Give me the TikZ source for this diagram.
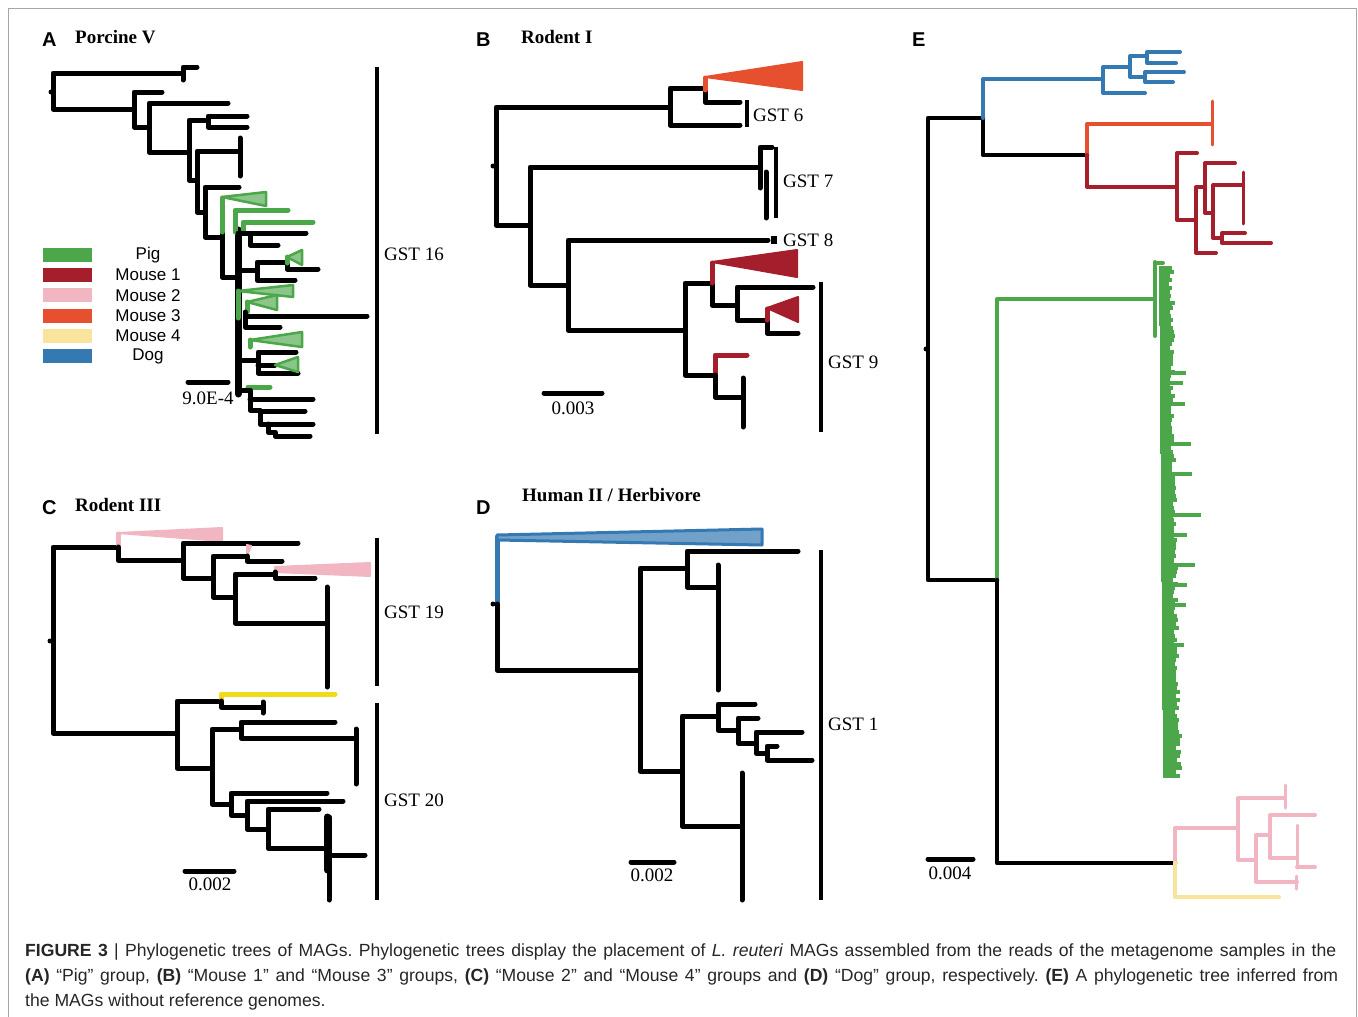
\documentclass[tikz,border=0pt]{standalone}
\usepackage{fontspec}
\setmainfont{Liberation Serif}
\newfontfamily\capfont{Liberation Sans}
\usetikzlibrary{calc}
\definecolor{pig}{HTML}{4CA64A}
\definecolor{m1}{HTML}{A41E2B}
\definecolor{m2}{HTML}{F2B6C3}
\definecolor{m3}{HTML}{E6502F}
\definecolor{m4}{HTML}{F8E49C}
\definecolor{m4c}{HTML}{F0DA1C}
\definecolor{dog}{HTML}{3479B1}
\newcommand\capsetup{\capfont\frenchspacing\fontsize{17.6}{18}\selectfont}

\begin{document}
\begin{tikzpicture}[x=1pt,y=-1pt,
  br/.style={line width=5pt,line cap=round,line join=round},
  pigbr/.style={br,draw=pig},
  m1br/.style={br,draw=m1},
  m2br/.style={br,draw=m2},
  m3br/.style={br,draw=m3},
  m4br/.style={br,draw=m4},
  m4cbr/.style={br,draw=m4c},
  dogbr/.style={br,draw=dog},
  pigclade/.style={draw=pig,fill=pig!65!white,line width=2.5pt,line join=round},
  m1clade/.style={draw=m1,fill=m1,line width=2pt,line join=round},
  m2clade/.style={draw=m2,fill=m2,line width=2pt,line join=round},
  m3clade/.style={draw=m3,fill=m3,line width=2pt,line join=round},
  dogclade/.style={draw=dog,fill=dog!70!white,line width=3pt,line join=round},
  gstbar/.style={line width=4.5pt},
  lett/.style={anchor=west,inner sep=0pt,font=\capfont\bfseries\fontsize{20}{20}\selectfont},
  ttl/.style={anchor=west,inner sep=0pt,font=\bfseries\fontsize{19}{19}\selectfont},
  gst/.style={anchor=west,inner sep=0pt,font=\fontsize{19}{19}\selectfont},
  scl/.style={inner sep=0pt,font=\fontsize{19}{19}\selectfont},
  leg/.style={inner sep=0pt,font=\capfont\fontsize{17}{17}\selectfont},
  captxt/.style={anchor=base west,inner sep=0pt,text=black!85,font=\capsetup}]
\def\radius{2.5pt}
\useasboundingbox (0,0) rectangle (1358,1017);
\draw[black!35,line width=1pt] (8,1017) -- (8,8) -- (1356,8) -- (1356,1017);

% A: Porcine V
\node[lett] (la) at (42,40) {A};
\node[ttl] (ta) at (75,37) {Porcine V};
\fill (51,92) circle (\radius);
\draw[br] (183,73) -| (53,109) -- (134,109);
\draw[br] (197,67) -| (183,80);
\draw[br] (162,92) -| (134,127) -- (149,127);
\draw[br] (228,103) -| (149,152) -- (189,152);
\draw[br] (208,120) -| (189,180) -- (197,180);
\draw[br] (247,116) -| (208,127) -- (247,127);
\draw[br] (240,151) -| (197,212) -- (205,212);
\draw[br] (240,138) -- (240,176);
\draw[br] (239,187) -| (205,237) -- (222,237);
\draw[br] (222,232) -- (222,277) -- (237,277);
\draw[br,line width=7pt] (238,230) -- (238,394);
\draw[pigbr] (222,232) -- (222,198);
\filldraw[pigclade] (222,197) -- (266,192) -- (266,206) -- cycle;
\draw[pigbr] (235,232) |- (288,210);
\draw[pigbr] (243,233) |- (313,222);
\draw[br] (306,233) -| (250,245) -- (278,245);
\draw[br] (238,233) -- (250,233);
\draw[br] (238,270) -- (257,270);
\draw[br] (287,262) -| (257,280) -- (295,280);
\draw[br] (287,262) |- (318,269);
\draw[pigbr] (287,263) -- (287,257);
\filldraw[pigclade] (287,257) -- (302,250) -- (302,265) -- cycle;
\draw[pigbr] (238,318) -- (238,291);
\filldraw[pigclade] (238,291) -- (293,285) -- (293,297) -- cycle;
\draw[pigbr] (247,312) -- (247,302);
\filldraw[pigclade] (247,302) -- (277,295) -- (277,310) -- cycle;
\draw[br] (245,312) |- (367,316);
\draw[br] (245,316) |- (280,327);
\draw[pigbr] (250,347) -- (250,340);
\filldraw[pigclade] (250,340) -- (302,332) -- (302,347) -- cycle;
\draw[br] (240,360) -- (258,360);
\draw[br] (296,352) -| (258,373) -- (298,373);
\draw[br] (258,365) -- (275,365);
\filldraw[pigclade] (275,365) -- (298,357) -- (298,372) -- cycle;
\draw[pigbr] (248,387) -- (270,387);
\draw[br] (238,390) -- (250,390) |- (260,410);
\draw[br] (250,399) -- (313,399);
\draw[br] (305,411) -| (260,424) -- (313,424);
\draw[br] (268,424) |- (275,432) |- (310,436);
\draw[gstbar] (377,67) -- (377,434);
\node[gst] (g16) at (384,254) {GST 16};
\draw[br] (188,382) -- (228,382);
\node[scl] (sa) at (208,398) {9.0E-4};
\foreach \c/\t [count=\i from 0] in {pig/Pig,m1/Mouse 1,m2/Mouse 2,m3/Mouse 3,m4/Mouse 4,dog/Dog}{
  \fill[\c] (43,{248+20.2*\i}) rectangle ++(49,14);
  \node[leg] (leg\i) at (148,{255+20.2*\i}) {\t};
}

% B: Rodent I
\node[lett] (lb) at (476,40) {B};
\node[ttl] (tb) at (521,37) {Rodent I};
\fill (493,166) circle (\radius);
\draw[br] (670,107) -| (496,225) -- (530,225);
\draw[br] (705,88) -| (670,125) -- (740,125);
\draw[br] (705,90) -- (705,102) -- (740,102);
\draw[m3br] (705,90) -- (705,78);
\filldraw[m3clade] (705,77) -- (802,62) -- (802,90) -- cycle;
\draw[gstbar] (747,100) -- (747,127);
\node[gst] (g6) at (753,115) {GST 6};
\draw[br] (760,167) -| (530,285) -- (568,285);
\draw[br] (772,147) -| (760,188);
\draw[br] (766,172) -- (766,218);
\draw[gstbar] (776,147) -- (776,218);
\node[gst] (g7) at (783,181) {GST 7};
\draw[br] (768,240) -| (568,330) -- (685,330);
\fill (771,236) rectangle (777,244);
\node[gst] (g8) at (783,240) {GST 8};
\draw[br] (712,283) -| (685,375) -- (715,375);
\draw[br] (712,283) -- (712,305) -- (737,305);
\draw[m1br] (712,283) -- (712,263);
\filldraw[m1clade] (712,262) -- (797,250) -- (797,277) -- cycle;
\draw[br] (813,287) -| (737,320) -- (767,320);
\draw[br] (767,320) |- (798,333);
\draw[m1br] (767,320) -- (767,309);
\filldraw[m1clade] (767,308) -- (798,297) -- (798,322) -- cycle;
\draw[m1br] (715,375) |- (747,355);
\draw[br] (715,375) |- (743,397);
\draw[br] (743,378) -- (743,427);
\draw[gstbar] (821,282) -- (821,432);
\node[gst] (g9) at (828,362) {GST 9};
\draw[br] (544,393) -- (602,393);
\node[scl] (sb) at (573,408) {0.003};

% C: Rodent III
\node[lett] (lc) at (42,508) {C};
\node[ttl] (tc) at (75,505) {Rodent III};
\fill (50,641) circle (\radius);
\draw[br] (118,547) -| (53,733) -- (177,733);
\draw[m2br] (118,547) -- (118,534);
\filldraw[m2clade] (118,533) -- (222,528) -- (222,541) -- cycle;
\draw[br] (118,547) |- (183,560);
\draw[br] (298,543) -| (183,578) -- (213,578);
\draw[br] (247,556) -| (213,597) -- (235,597);
\filldraw[m2clade] (247,556) -- (247,545) -- (251,546) -- cycle;
\draw[br] (247,556) |- (282,561);
\draw[br] (275,574) -| (235,623) -- (327,623);
\filldraw[m2clade] (275,567) -- (370,563) -- (370,576) -- (275,572) -- cycle;
\draw[br] (275,572) |- (315,578);
\draw[br] (327,587) -- (327,687);
\draw[gstbar] (377,538) -- (377,686);
\node[gst] (g19) at (384,612) {GST 19};
\draw[br] (221,701) -| (177,768) -- (212,768);
\draw[m4cbr] (221,701) |- (335,694);
\draw[br] (221,701) |- (263,707);
\draw[br] (263,702) -- (263,713);
\draw[br] (241,729) -| (212,804) -- (231,804);
\draw[br] (335,722) -| (241,738) -- (356,738);
\draw[br] (356,729) -- (356,784);
\draw[br] (327,793) -| (231,815) -- (247,815);
\draw[br] (343,801) -| (247,829) -- (268,829);
\draw[br] (319,809) -| (268,848) -- (327,848);
\draw[br,line width=7pt] (327,817) -- (327,870);
\draw[br] (329,817) -- (329,900);
\draw[br] (330,855) -- (365,855);
\draw[gstbar] (377,703) -- (377,900);
\node[gst] (g20) at (384,800) {GST 20};
\draw[br] (185,871) -- (234,871);
\node[scl] (sc) at (210,884) {0.002};

% D: Human II / Herbivore
\node[lett] (ld) at (476,508) {D};
\node[ttl] (td) at (522,495) {Human II / Herbivore};
\fill (493,604) circle (\radius);
\draw[dogbr] (497,604) -- (497,537);
\filldraw[dogclade] (497,535) -- (762,529) -- (762,545) -- (497,540) -- cycle;
\draw[br] (497,604) |- (640,670);
\draw[br] (687,568) -| (640,771) -- (682,771);
\draw[br] (798,551) -| (687,587) -- (718,587);
\draw[br] (718,565) -- (718,690);
\draw[br] (718,716) -| (682,826) -- (742,826);
\draw[br] (755,704) -| (718,730) -- (738,730);
\draw[br] (758,718) -| (738,743) -- (756,743);
\draw[br] (802,732) -| (756,753) -- (767,753);
\draw[br] (777,746) -| (767,760) -- (812,760);
\draw[br] (742,773) -- (742,900);
\draw[gstbar] (821,550) -- (821,900);
\node[gst] (g1) at (828,724) {GST 1};
\draw[br] (631,862) -- (674,862);
\node[scl] (sd) at (652,875) {0.002};

% E
\node[lett] (le) at (912,40) {E};
\fill (926,349) circle (\radius);
\draw[br,line width=4.5pt] (983,118) -| (928,580) -- (997,580);
\draw[br,line width=4.5pt] (983,116) |- (1087,155);
\draw[dogbr,line width=4pt] (983,118) |- (1103,79);
\draw[dogbr,line width=4pt] (1145,93) -| (1103,67) -- (1130,67);
\draw[dogbr,line width=4pt] (1147,56) -| (1130,77) -- (1145,77);
\draw[dogbr,line width=4pt] (1180,52) -| (1147,63) -- (1176,63);
\draw[dogbr,line width=4pt] (1184,72) -| (1145,82) -- (1173,82);
\draw[m3br,line width=4pt] (1087,155) |- (1212,124);
\draw[m3br,line width=3pt] (1212,101) -- (1212,145);
\draw[m1br,line width=4pt] (1087,155) |- (1177,187);
\draw[m1br,line width=4pt] (1197,153) -| (1177,220) -- (1196,220);
\draw[m1br,line width=4pt] (1205,187) -| (1196,253) -- (1216,253);
\draw[m1br,line width=4pt] (1235,163) -| (1205,213) -- (1213,213);
\draw[m1br,line width=4pt] (1243,185) -| (1213,238) -- (1222,238);
\draw[m1br,line width=3pt] (1243,172) -- (1243,224);
\draw[m1br,line width=4pt] (1245,233) -| (1222,243) -- (1271,243);
\draw[pigbr,line width=4pt] (997,580) |- (1155,299);
\draw[pigbr,line width=4pt] (1155,262) -- (1155,336) ;
\draw[pigbr,line width=4pt] (1155,263) -- (1163,263);
\pgfmathsetseed{11}
\foreach \y in {268,272,...,776}{
  \pgfmathsetmacro{\xs}{1159+4*(\y-262)/516}
  \pgfmathsetmacro{\xe}{1168+8*(\y-262)/516+6*rnd}
  \draw[pig,line width=4.2pt] (\xs,\y) -- (\xe,\y);
}
\foreach \y/\xe in {303/1175,373/1186,383/1183,404/1185,444/1191,474/1192,515/1201,535/1187,565/1195,585/1187,605/1186,645/1184,736/1182,756/1180,776/1177}{
  \draw[pig,line width=4pt] (1165,\y) -- (\xe,\y);
}
\draw[br,line width=4.5pt] (997,580) |- (1175,863);
\draw[m2br,line width=4pt] (1175,863) |- (1238,828);
\draw[m4br,line width=4pt] (1175,863) |- (1279,897);
\draw[m2br,line width=4pt] (1285,798) -| (1238,860) -- (1256,860);
\draw[m2br,line width=3pt] (1285,785) -- (1285,808);
\draw[m2br,line width=4pt] (1270,835) -| (1256,882) -- (1297,882);
\draw[m2br,line width=4pt] (1315,815) -| (1270,858) -- (1297,858);
\draw[m2br,line width=3pt] (1297,825) -- (1297,868);
\draw[m2br,line width=4pt] (1297,867) -- (1315,867);
\draw[m2br,line width=3pt] (1296,876) -- (1296,889);
\draw[br] (928,859) -- (973,859);
\node[scl] (se) at (950,873) {0.004};

% caption
\node[captxt] (c1) at (25,956) {\makebox[1311pt][s]{\textbf{FIGURE 3} | Phylogenetic trees of MAGs. Phylogenetic trees display the placement of \textit{L. reuteri} MAGs assembled from the reads of the metagenome samples in the}};
\node[captxt] (c2) at (25,981) {\makebox[1313pt][s]{\textbf{(A)} “Pig” group, \textbf{(B)} “Mouse 1” and “Mouse 3” groups, \textbf{(C)} “Mouse 2” and “Mouse 4” groups and \textbf{(D)} “Dog” group, respectively. \textbf{(E)} A phylogenetic tree inferred from}};
\node[captxt] (c3) at (25,1006) {the MAGs without reference genomes.};
\end{tikzpicture}
\end{document}
